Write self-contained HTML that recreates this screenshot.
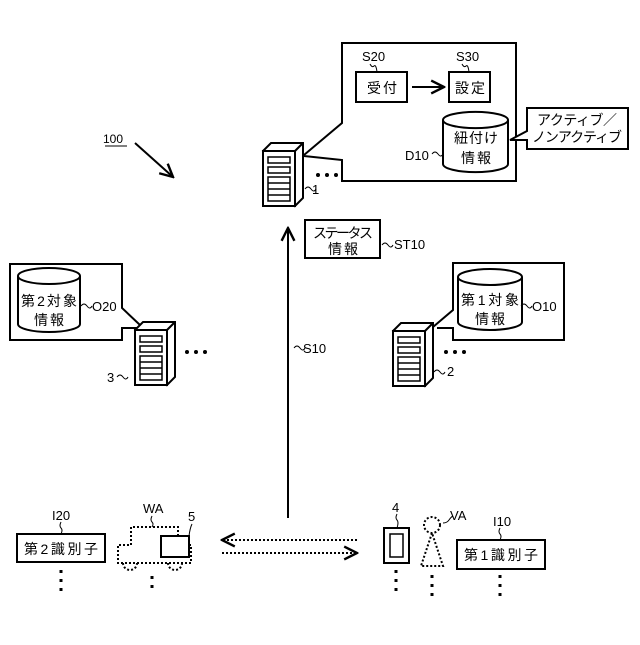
<!DOCTYPE html>
<html><head><meta charset="utf-8"><style>
body{margin:0;background:#fff}
text{font-family:"Liberation Sans","Noto Sans CJK JP",sans-serif;fill:#000}
</style></head><body>
<svg width="640" height="640" viewBox="0 0 640 640" xmlns="http://www.w3.org/2000/svg">
<defs>
<g id="srv" fill="#fff" stroke="#000" stroke-width="2">
<path d="M0 8 L8 0 L40 0 L40 55 L32 63 Z"/>
<rect x="0" y="8" width="32" height="55"/>
<path d="M32 8 L40 0" />
<rect x="5" y="14" width="22" height="6" stroke-width="1.5"/>
<rect x="5" y="24" width="22" height="6" stroke-width="1.5"/>
<rect x="5" y="34" width="22" height="24" stroke-width="1.5"/>
<path d="M5 40 H27 M5 46 H27 M5 52 H27" stroke-width="1.5"/>
</g>
<marker id="ah" viewBox="0 0 10 10" refX="9" refY="5" markerWidth="8" markerHeight="8" orient="auto"><path d="M1 1 L9 5 L1 9" fill="none" stroke="#000" stroke-width="1.5"/></marker>
</defs>
<g fill="none" stroke="#000" stroke-width="2">
<path d="M304 155 L342 123 L342 43 L516 43 L516 181 L342 181 L342 160 L304 156" fill="#fff"/>
<rect x="356" y="72" width="51" height="30"/>
<rect x="449" y="72" width="41" height="30"/>
<line x1="412" y1="87" x2="444" y2="87" marker-end="url(#ah)"/>
<path d="M443 120 A32 8 0 0 1 508 120 V164 A32 8 0 0 1 443 164 Z"/>
<path d="M443 120 A32 8 0 0 0 508 120"/>
<path d="M510 140 L527 131 L527 108 L628 108 L628 149 L527 149 L527 140 Z" fill="#fff"/>
<rect x="305" y="220" width="75" height="38"/>
<line x1="288" y1="518" x2="288" y2="228" marker-end="url(#ah)"/>
<path d="M140 325 L122 308 L122 264 L10 264 L10 340 L122 340 L122 328 L137 328"/>
<path d="M18 276 A31 8 0 0 1 80 276 V324 A31 8 0 0 1 18 324 Z"/>
<path d="M18 276 A31 8 0 0 0 80 276"/>
<path d="M433 327 L453 310 L453 263 L564 263 L564 340 L453 340 L453 328 L437 328"/>
<path d="M458 277 A32 8 0 0 1 522 277 V322 A32 8 0 0 1 458 322 Z"/>
<path d="M458 277 A32 8 0 0 0 522 277"/>
<line x1="135" y1="143" x2="173" y2="177" marker-end="url(#ah)"/>
<line x1="105" y1="146" x2="127" y2="146" stroke-width="1"/>
<rect x="17" y="534" width="88" height="28"/>
<rect x="457" y="540" width="88" height="29"/>
<rect x="384" y="528" width="25" height="35"/>
<rect x="390" y="534" width="13" height="23" stroke-width="1.5"/>
<rect x="161" y="536" width="28" height="21"/>
<g stroke-dasharray="2 2">
<path d="M131 545 V527 H178 V536 M189 545 H191 V563 H118 V545 H131"/>
<path d="M123 563 A7 7 0 0 0 137 563 M168 563 A7 7 0 0 0 182 563"/>
<line x1="357" y1="540" x2="222" y2="540" marker-end="url(#ah)"/>
<line x1="222" y1="553" x2="357" y2="553" marker-end="url(#ah)"/>
<circle cx="432" cy="525" r="8"/>
<path d="M432 533 L421 566 H443 Z"/>
</g>
<g stroke-width="3" stroke-dasharray="3 6">
<line x1="61" y1="570" x2="61" y2="592"/>
<line x1="152" y1="576" x2="152" y2="592"/>
<line x1="396" y1="570" x2="396" y2="592"/>
<line x1="432" y1="575" x2="432" y2="600"/>
<line x1="500" y1="575" x2="500" y2="600"/>
</g>
<g stroke-width="1">
<path d="M370 64 q2 4 4 2 q2 -2 3 6"/><path d="M462 64 q2 4 4 2 q2 -2 3 6"/>
<path d="M432 154 q3 -4 6 0 q3 4 5 0"/>
<path d="M305 189 q3 -4 6 0 q3 4 5 0"/>
<path d="M382 245 q3 -4 6 0 q3 4 5 0"/>
<path d="M81 306 q3 -4 6 0 q3 4 5 0"/>
<path d="M521 306 q3 -4 6 0 q3 4 5 0"/>
<path d="M117 377 q3 -4 6 0 q3 4 5 0"/>
<path d="M434 372 q3 -4 6 0 q3 4 5 0"/>
<path d="M294 348 q3 -4 6 0 q3 4 5 0"/>
<path d="M61 522 q-2 4 0 6 q2 2 0 6"/><path d="M152 516 q-2 4 0 6 q2 2 0 5"/>
<path d="M192 524 q-2 4 -3 12"/><path d="M397 514 q-2 4 0 6 q2 2 0 8"/>
<path d="M443 523 q4 0 6 -3 q2 -3 4 -4"/><path d="M500 528 q-2 4 0 6 q2 2 0 6"/>
</g>
</g>
<use href="#srv" x="263" y="143"/>
<use href="#srv" x="135" y="322"/>
<use href="#srv" x="393" y="323"/>
<g fill="#000">
<circle cx="318" cy="175" r="2"/><circle cx="327" cy="175" r="2"/><circle cx="336" cy="175" r="2"/>
<circle cx="187" cy="352" r="2"/><circle cx="196" cy="352" r="2"/><circle cx="205" cy="352" r="2"/>
<circle cx="446" cy="352" r="2"/><circle cx="455" cy="352" r="2"/><circle cx="464" cy="352" r="2"/>
</g>
<g font-size="14">
<text x="362" y="61" font-size="13">S20</text><text x="456" y="61" font-size="13">S30</text>
<text x="367" y="93" textLength="30">受付</text><text x="455" y="93" textLength="30">設定</text>
<text x="454" y="143" textLength="44">紐付け</text><text x="461" y="163" textLength="30">情報</text>
<text x="405" y="160" font-size="13">D10</text>
<text x="537" y="125" textLength="80">アクティブ／</text><text x="532" y="142" textLength="90">ノンアクティブ</text>
<text x="313" y="238" textLength="60">ステータス</text><text x="328" y="254" textLength="30">情報</text>
<text x="394" y="249" font-size="13">ST10</text>
<text x="312" y="194" font-size="13">1</text>
<text x="21" y="306" textLength="56">第2対象</text><text x="34" y="325" textLength="30">情報</text>
<text x="92" y="311" font-size="13">O20</text>
<text x="461" y="305" textLength="58">第1対象</text><text x="475" y="324" textLength="30">情報</text>
<text x="532" y="311" font-size="13">O10</text>
<text x="107" y="382" font-size="13">3</text><text x="447" y="376" font-size="13">2</text>
<text x="303" y="353" font-size="13">S10</text>
<text x="103" y="143" font-size="12">100</text>
<text x="24" y="554" textLength="74">第2識別子</text><text x="464" y="560" textLength="74">第1識別子</text>
<text x="52" y="520" font-size="13">I20</text><text x="143" y="513" font-size="13">WA</text><text x="188" y="521" font-size="13">5</text>
<text x="392" y="512" font-size="13">4</text><text x="450" y="520" font-size="13">VA</text><text x="493" y="526" font-size="13">I10</text>
</g>
</svg>
</body></html>
